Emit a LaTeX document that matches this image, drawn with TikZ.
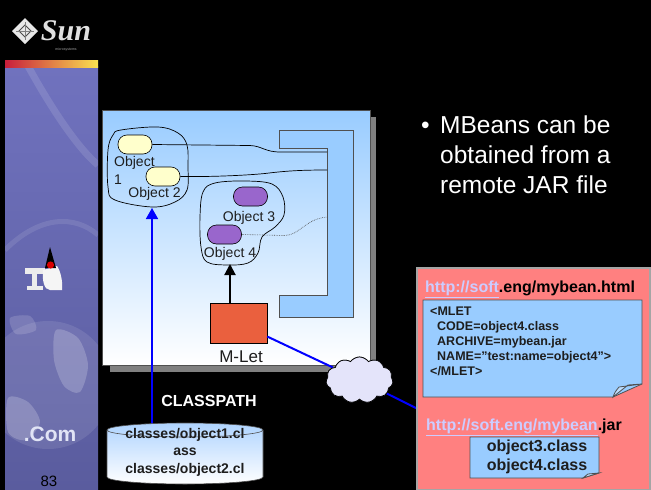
\documentclass[tikz,border=0pt]{standalone}
\usepackage{fontspec}
\setmainfont{Liberation Sans}
\newfontfamily\logofont{Liberation Serif}
\usetikzlibrary{shapes.symbols,arrows.meta}

\definecolor{stripA}{RGB}{112,114,190}
\definecolor{stripB}{RGB}{90,92,158}
\definecolor{panelblue}{RGB}{153,204,255}
\definecolor{pillyellow}{RGB}{255,255,204}
\definecolor{pillpurple}{RGB}{153,102,204}
\definecolor{mletred}{RGB}{234,96,62}
\definecolor{pinkbg}{RGB}{255,128,128}
\definecolor{linklav}{RGB}{204,204,255}
\definecolor{cloudfill}{RGB}{228,228,250}
\definecolor{edgegray}{RGB}{80,80,80}
\definecolor{textdark}{RGB}{30,30,30}

\newcommand{\fsz}[2]{\fontsize{#1}{#2}\selectfont}

\tikzset{
  pill/.style={rounded corners=9pt, draw=black, line width=0.6pt,
    minimum width=34pt, minimum height=19pt, inner sep=0pt},
  objlabel/.style={font=\fsz{14}{16}, text=textdark, inner sep=0pt},
  blob/.style={draw=black, line width=0.7pt},
  wire/.style={draw=black, line width=0.7pt},
  notebox/.style={draw=edgegray, line width=0.8pt, fill=panelblue},
  bullettext/.style={font=\fsz{24.5}{30}, text=white, inner sep=0pt, anchor=base west},
  link/.style={line width=2pt, draw=blue},
}

\begin{document}
\begin{tikzpicture}[x=1pt,y=-1pt]
\useasboundingbox (0,0) rectangle (651,490);
\fill[black] (0,0) rectangle (651,490);

% ---- left decorative strip ----
\shade[top color=stripA, bottom color=stripB] (5,66) rectangle (98,490);
\begin{scope}
  \clip (5,66) rectangle (98,490);
  \fill[white, opacity=0.10] (48,385) circle (64);
  \fill[white, opacity=0.20] plot[smooth cycle] coordinates {(56,330) (78,338) (88,365) (80,392) (64,386) (54,360)};
  \fill[white, opacity=0.20] plot[smooth cycle] coordinates {(8,398) (28,402) (40,422) (26,440) (8,432)};
  \fill[white, opacity=0.15] plot[smooth cycle] coordinates {(10,318) (30,316) (36,330) (16,334)};
  \draw[white, opacity=0.12, line width=7pt] (28,66) .. controls (55,115) and (80,150) .. (98,165);
  \draw[white, opacity=0.10, line width=5pt] (5,250) .. controls (40,215) and (75,215) .. (98,235);
\end{scope}
\shade[left color={rgb,255:red,200;green,30;blue,60}, middle color={rgb,255:red,240;green,140;blue,40},
       right color={rgb,255:red,250;green,225;blue,80}] (5,60) rectangle (98,67);

% Sun logo
\fill[white!82!gray] (25,18) -- (38,31) -- (25,44) -- (12,31) -- cycle;
\draw[gray!60!black, line width=0.8pt] (19,31) -- (25,25) -- (31,31) -- (25,37) -- cycle;
\draw[gray, line width=0.6pt] (16,31) -- (34,31) (25,22) -- (25,40);
\node[font=\logofont\itshape\bfseries\fsz{30}{30}, text={rgb,255:red,225;green,225;blue,225}, inner sep=0pt] (sunword) at (66,31) {Sun};
\node[font=\fsz{3.5}{4}, text=gray!70, inner sep=0pt] (suntag) at (66,50) {microsystems};

% mascot at the lectern
\fill[white!85!gray] (25,268) rectangle (45,274);
\fill[white!85!gray] (32,274) rectangle (37,287);
\fill[white!85!gray] (27,286) rectangle (43,290);
\fill[white!92!gray] (43,270) .. controls (42,280) and (44,290) .. (50,290)
  -- (62,290) .. controls (63,280) and (60,270) .. (57,266) -- cycle;
\fill[black] (45,268) -- (50,247) -- (56,268) -- cycle;
\fill[red!85!black] (50.5,265) circle (3.6);
\node[font=\bfseries\fsz{21}{22}, text={rgb,255:red,225;green,228;blue,245}, inner sep=0pt] (dotcom) at (50,434) {.Com};
\node[font=\fsz{15}{16}, text=black, inner sep=0pt] (pagenum) at (49,481) {83};

% ---- container panel ----
\fill[gray] (110,117) rectangle (376,372);
\shade[top color=panelblue, bottom color=white] (102,110) rectangle (370,365);
\draw[edgegray, line width=0.6pt] (102,110) rectangle (370,365);

% bracket
\draw[notebox, line width=0.7pt] (279,130) -- (353,130) -- (353,317) -- (279,317) -- (279,295)
  -- (327,295) -- (327,148) -- (279,148) -- cycle;
\coordinate (br1) at (327,152);
\coordinate (br2) at (327,170);
\coordinate (br3) at (327,217);

% object groups
\draw[blob] plot[smooth cycle, tension=0.6] coordinates {(121,130) (158,127) (178,133) (187,145) (188,167)
  (187,190) (175,202) (152,207) (115,200) (108,187) (108,150) (113,135)};
\draw[blob] plot[smooth cycle, tension=0.6] coordinates {(215,183) (245,181) (272,184) (283,197) (284,215)
  (275,227) (262,237) (258,253) (248,263) (228,265) (207,262) (201,247) (200,217) (203,192)};

\node[pill, fill=pillyellow] (o1) at (135,144.5) {};
\node[pill, fill=pillyellow] (o2) at (163,176.5) {};
\node[pill, fill=pillpurple] (o3) at (250.5,196.5) {};
\node[pill, fill=pillpurple] (o4) at (224.5,234.5) {};

\node[objlabel, align=left, anchor=north west, font=\fsz{14}{18}] (l1) at (114,156) {Object\\1};
\node[objlabel] (l2) at (154.5,194) {Object 2};
\node[objlabel] (l3) at (249,218) {Object 3};
\node[objlabel] (l4) at (230,254) {Object 4};

% wires to the bracket
\draw[wire] (o1.east) -- (250,145.5) .. controls (262,146) and (265,152) .. (280,152) -- (br1);
\draw[wire] (o2.east) .. controls (215,177) and (250,175) .. (265,173.5) .. controls (285,171) and (300,170) .. (br2);
\draw[wire, densely dotted, draw=gray!60!black, line width=0.6pt] (o4.east) -- (285,235.5)
  .. controls (300,235) and (305,219) .. (br3);

% M-Let
\node[draw=black, line width=0.6pt, fill=mletred, minimum width=57pt, minimum height=40pt, inner sep=0pt] (mlet) at (238.5,323) {};
\node[font=\fsz{17}{18}, text=textdark, inner sep=0pt] (mletlbl) at (241,357) {M-Let};
\coordinate (o4in) at (230,264);
\draw[line width=2pt, -{Triangle[length=11pt, width=11pt]}] ([xshift=-8.5pt]mlet.north) -- (o4in);

% ---- class path ----
\coordinate (cpTop) at (152,424);
\coordinate (o1in) at (152,208);
\draw[draw=blue, line width=1.6pt, -{Triangle[length=11pt, width=12pt]}] (cpTop) -- (o1in);
\node[font=\bfseries\fsz{16}{18}, text=white, inner sep=0pt] (cplbl) at (209,401) {CLASSPATH};

\shade[top color={rgb,255:red,175;green,212;blue,255}, bottom color=white]
  (107,430) arc[start angle=180, end angle=360, x radius=78, y radius=7]
  -- (263,477) arc[start angle=0, end angle=180, x radius=78, y radius=7] -- cycle;
\draw[edgegray, line width=0.6pt] (107,430) -- (107,477) arc[start angle=180, end angle=0, x radius=78, y radius=7] -- (263,430);
\draw[edgegray, line width=0.6pt] (185,430) ellipse[x radius=78, y radius=7];
\node[font=\bfseries\fsz{14}{17.5}, text=textdark, align=center, inner sep=0pt] (cptext) at (185,452)
  {classes/object1.cl\\ass\\classes/object2.cl};

% ---- remote link ----
\node[cloud, cloud puffs=11, cloud puff arc=110, draw=black, line width=0.7pt, fill=cloudfill,
  minimum width=67pt, minimum height=46pt, inner sep=0pt] (cloud) at (359.5,380) {};
\coordinate (urlin) at (418,409);
\draw[link] (mlet) -- (cloud);
\draw[link] (cloud) -- (urlin);
\node[cloud, cloud puffs=11, cloud puff arc=110, draw=black, line width=0.7pt, fill=cloudfill,
  minimum width=67pt, minimum height=46pt, inner sep=0pt] (cloudtop) at (359.5,380) {};

% ---- remote web server ----
\node[draw={rgb,255:red,165;green,165;blue,165}, line width=1.8pt, fill=pinkbg, minimum width=233pt,
  minimum height=222pt, inner sep=0pt] (server) at (533.5,379) {};
\node[font=\bfseries\fsz{16}{18}, inner sep=0pt, anchor=base west] (htmlurl) at (425,292)
  {\textcolor{linklav}{\underline{http://soft}}.eng/mybean.html};

\draw[notebox] (423,300) -- (642,300) -- (642,384) -- (613,397) -- (423,397) -- cycle;
\draw[edgegray, line width=0.8pt, fill={rgb,255:red,190;green,222;blue,255}] (613,397) .. controls (615,392) .. (619,387) -- (642,384) -- (628,385) -- cycle;
\node[font=\bfseries\fsz{12.5}{15}, text=textdark, align=left, anchor=north west, inner sep=0pt] (mlettag) at (430,307)
  {<MLET\\\hspace*{7pt}CODE=object4.class\\\hspace*{7pt}ARCHIVE=mybean.jar\\\hspace*{7pt}NAME="test:name=object4">\\</MLET>};

\node[font=\bfseries\fsz{16}{18}, inner sep=0pt, anchor=base west] (jarurl) at (426,430)
  {\textcolor{linklav}{\underline{http://soft.eng/mybean}}.jar};
\draw[notebox] (470,437) -- (599,437) -- (599,473) -- (583,478) -- (470,478) -- cycle;
\draw[edgegray, line width=0.8pt, fill={rgb,255:red,190;green,222;blue,255}] (583,478) -- (588,474) -- (599,473) -- cycle;
\node[font=\bfseries\fsz{16}{19}, text=textdark, align=center, inner sep=0pt] (jarlist) at (537,457)
  {object3.class\\object4.class};

% ---- bullet text ----
\node[bullettext] (dot) at (421,133) {\textbullet};
\node[bullettext] (bl1) at (440,133) {MBeans can be};
\node[bullettext] (bl2) at (440,163) {obtained from a};
\node[bullettext] (bl3) at (440,193) {remote JAR file};
\end{tikzpicture}
\end{document}
